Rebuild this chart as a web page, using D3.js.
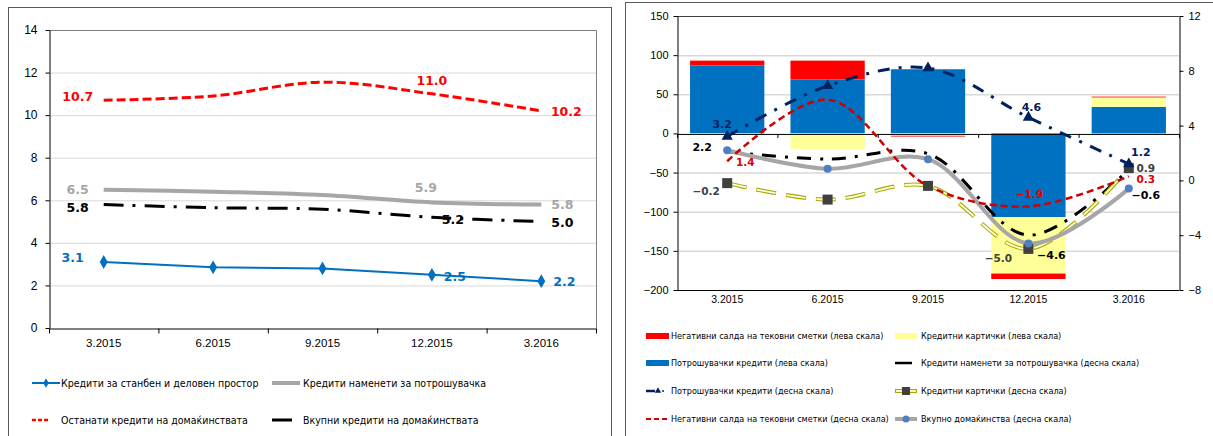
<!DOCTYPE html>
<html>
<head>
<meta charset="utf-8">
<script src="https://cdn.jsdelivr.net/npm/d3@7"></script>
<style>
  body { margin: 0; background: #fff; }
  svg { display: block; font-family: "DejaVu Sans", sans-serif; }
  .legend { font-family: "DejaVu Sans Condensed", "DejaVu Sans", sans-serif; }
</style>
</head>
<body>
<svg id="chart" width="1213" height="436"></svg>
<script>
// categories shared by both panels
var categories = ['3.2015', '6.2015', '9.2015', '12.2015', '3.2016'];

// left panel, percent
var housingLoans = [3.1, 2.85, 2.8, 2.5, 2.2];
var consumerLoans = [6.5, 6.4, 6.25, 5.9, 5.8];
var otherLoans = [10.7, 10.9, 11.55, 11.0, 10.2];
var totalLoans = [5.8, 5.65, 5.58, 5.2, 5.0];
var leftTicks = [0, 2, 4, 6, 8, 10, 12, 14];

// right panel, bars (left scale)
var negBalancesBar = [6, 24, -1, -7, 1];
var creditCardsBar = [-2, -20, -3, -72, 12];
var consumerCreditsBar = [87, 69, 82, -107, 34];
// right panel, lines (right scale)
var consumerCreditsLine = [3.2, 6.9, 8.2, 4.6, 1.2];
var consumptionLine = [2.1, 1.55, 1.95, -4.0, 0.8];
var creditCardsLine = [-0.2, -1.4, -0.4, -5.0, 0.9];
var negBalancesLine = [1.4, 5.9, -0.4, -1.9, 0.3];
var householdsLine = [2.2, 0.85, 1.55, -4.6, -0.6];
var rightLeftTicks = [-200, -150, -100, -50, 0, 50, 100, 150];
var rightRightTicks = [-8, -4, 0, 4, 8, 12];

// points that carry a value label
var labelIdx = [0, 3, 4];

var svg = d3.select('#chart');

// panel frames
svg.append('rect')
  .attr('x', 8.5).attr('y', 7.5).attr('width', 603).attr('height', 440)
  .attr('fill', 'none').attr('stroke', '#595959');
svg.append('rect')
  .attr('x', 625.5).attr('y', 2.5).attr('width', 600).attr('height', 440)
  .attr('fill', 'none').attr('stroke', '#595959');

function fmt(v) { return d3.format('.1f')(v); }

function drawLabels(g, x, y, values, color, offsets, size) {
  labelIdx.forEach(function(i, k) {
    g.append('text')
      .attr('x', x(categories[i]) + x.bandwidth() / 2 + offsets[k][0])
      .attr('y', y(values[i]) + offsets[k][1])
      .attr('dy', '0.35em')
      .attr('text-anchor', 'middle')
      .attr('font-size', size)
      .attr('font-weight', 'bold')
      .attr('fill', color)
      .text(fmt(values[i]));
  });
}

// ---------------- left panel ----------------
(function() {
  var g = svg.append('g');
  var x = d3.scaleBand().domain(categories).range([49, 596]);
  var y = d3.scaleLinear().domain([0, 14]).range([328, 30]);
  var cx = function(i) { return x(categories[i]) + x.bandwidth() / 2; };

  g.selectAll('.grid').data(leftTicks.slice(1, -1)).enter().append('line')
    .attr('x1', 49).attr('x2', 596)
    .attr('y1', function(d) { return y(d) + 0.5; })
    .attr('y2', function(d) { return y(d) + 0.5; })
    .attr('stroke', '#d9d9d9');
  // plot border top/right
  g.append('path')
    .attr('d', 'M49,' + (y(14) + 0.5) + 'H596.5V328')
    .attr('fill', 'none').attr('stroke', '#7f7f7f');

  var yAxis = g.append('g').attr('transform', 'translate(49.5,0)')
    .call(d3.axisLeft(y).tickValues(leftTicks).tickSize(4).tickPadding(8).tickSizeOuter(0));
  yAxis.selectAll('text').attr('font-size', 12).attr('fill', '#000');
  yAxis.selectAll('line,path').attr('stroke', '#000');

  var edge = d3.scaleLinear().domain([0, 5]).range([49, 596]);
  var xAxis = g.append('g').attr('transform', 'translate(0,328.5)')
    .call(d3.axisBottom(edge).ticks(5).tickSize(5).tickFormat('').tickSizeOuter(0));
  xAxis.selectAll('line,path').attr('stroke', '#000');
  var xLab = g.append('g').attr('transform', 'translate(0,328)')
    .call(d3.axisBottom(x).tickSize(0).tickPadding(11));
  xLab.select('.domain').remove();
  xLab.selectAll('text').attr('font-size', 11.5).attr('fill', '#000');

  var smooth = d3.line().x(function(d, i) { return cx(i); }).y(function(d) { return y(d); })
    .curve(d3.curveCatmullRom.alpha(0.5));
  var straight = d3.line().x(function(d, i) { return cx(i); }).y(function(d) { return y(d); });

  g.append('path').attr('d', smooth(otherLoans)).attr('fill', 'none')
    .attr('stroke', '#ff0000').attr('stroke-width', 3).attr('stroke-dasharray', '9,4');
  g.append('path').attr('d', smooth(consumerLoans)).attr('fill', 'none')
    .attr('stroke', '#a6a6a6').attr('stroke-width', 4);
  g.append('path').attr('d', smooth(totalLoans)).attr('fill', 'none')
    .attr('stroke', '#000').attr('stroke-width', 3).attr('stroke-dasharray', '20,9,3,9');
  g.append('path').attr('d', straight(housingLoans)).attr('fill', 'none')
    .attr('stroke', '#0070c0').attr('stroke-width', 2);
  g.selectAll('.dia').data(housingLoans).enter().append('path')
    .attr('d', d3.symbol(d3.symbolDiamond, 55))
    .attr('transform', function(d, i) { return 'translate(' + cx(i) + ',' + y(d) + ')'; })
    .attr('fill', '#0070c0');

  drawLabels(g, x, y, otherLoans, '#ff0000', [[-26, -4], [0, -13], [25, 1]], 12.5);
  drawLabels(g, x, y, consumerLoans, '#a6a6a6', [[-26, 0], [-6, -15], [21, 0]], 12.5);
  drawLabels(g, x, y, totalLoans, '#000', [[-26, 3], [21, 2], [21, 1]], 12.5);
  drawLabels(g, x, y, housingLoans, '#0070c0', [[-31, -4], [23, 2], [23, 0]], 12.5);

  // legend
  var lg = g.append('g').attr('class', 'legend').attr('font-size', 10.5).attr('fill', '#000');
  lg.append('line').attr('x1', 32).attr('x2', 60).attr('y1', 383).attr('y2', 383)
    .attr('stroke', '#0070c0').attr('stroke-width', 2);
  lg.append('path').attr('d', d3.symbol(d3.symbolDiamond, 25))
    .attr('transform', 'translate(46,383)').attr('fill', '#0070c0');
  lg.append('text').attr('x', 61).attr('y', 383).attr('dy', '0.35em').text('Кредити за станбен и деловен простор');
  lg.append('line').attr('x1', 272).attr('x2', 300).attr('y1', 383).attr('y2', 383)
    .attr('stroke', '#a6a6a6').attr('stroke-width', 4);
  lg.append('text').attr('x', 303).attr('y', 383).attr('dy', '0.35em').text('Кредити наменети за потрошувачка');
  lg.append('line').attr('x1', 32).attr('x2', 48).attr('y1', 420).attr('y2', 420)
    .attr('stroke', '#ff0000').attr('stroke-width', 2.5).attr('stroke-dasharray', '4,2');
  lg.append('text').attr('x', 61).attr('y', 420).attr('dy', '0.35em').text('Останати кредити на домаќинствата');
  lg.append('line').attr('x1', 272).attr('x2', 292).attr('y1', 420).attr('y2', 420)
    .attr('stroke', '#000').attr('stroke-width', 3);
  lg.append('text').attr('x', 303).attr('y', 420).attr('dy', '0.35em').text('Вкупни кредити на домаќинствата');
})();

// ---------------- right panel ----------------
(function() {
  var g = svg.append('g');
  var x = d3.scaleBand().domain(categories).range([677, 1179]);
  var xBar = d3.scaleBand().domain(categories).range([677, 1179]).paddingInner(0.26).paddingOuter(0.13);
  var yL = d3.scaleLinear().domain([-200, 150]).range([290, 16]);
  var yR = d3.scaleLinear().domain([-8, 12]).range([290, 16]);
  var cx = function(i) { return x(categories[i]) + x.bandwidth() / 2; };

  g.selectAll('.grid').data([-150, -100, -50, 50, 100]).enter().append('line')
    .attr('x1', 677).attr('x2', 1179)
    .attr('y1', function(d) { return yL(d) + 0.5; })
    .attr('y2', function(d) { return yL(d) + 0.5; })
    .attr('stroke', '#d9d9d9').attr('stroke-width', 1.5);
  g.append('line').attr('x1', 677).attr('x2', 1179).attr('y1', 16.5).attr('y2', 16.5)
    .attr('stroke', '#404040');

  // stacked bars
  var keys = ['blue', 'yellow', 'red'];
  var colors = { blue: '#0070c0', yellow: '#ffff99', red: '#ff0000' };
  var rows = categories.map(function(c, i) {
    return { cat: c, blue: consumerCreditsBar[i], yellow: creditCardsBar[i], red: negBalancesBar[i] };
  });
  var stack = d3.stack().keys(keys).offset(d3.stackOffsetDiverging)(rows);
  g.selectAll('.layer').data(stack).enter().append('g')
    .attr('fill', function(d) { return colors[d.key]; })
    .selectAll('rect').data(function(d) { return d; }).enter().append('rect')
    .attr('x', function(d) { return xBar(d.data.cat); })
    .attr('width', xBar.bandwidth())
    .attr('y', function(d) { return yL(Math.max(d[0], d[1])); })
    .attr('height', function(d) { return Math.abs(yL(d[0]) - yL(d[1])); });

  // axes
  var ya = g.append('g').attr('transform', 'translate(677.5,0)')
    .call(d3.axisLeft(yL).tickValues(rightLeftTicks).tickSize(4).tickPadding(5).tickSizeOuter(0));
  ya.selectAll('text').attr('font-size', 11).attr('fill', '#000');
  ya.selectAll('line,path').attr('stroke', '#000');
  var yb = g.append('g').attr('transform', 'translate(1179.5,0)')
    .call(d3.axisRight(yR).tickValues(rightRightTicks).tickSize(4).tickPadding(5).tickSizeOuter(0));
  yb.selectAll('text').attr('font-size', 11).attr('fill', '#000');
  yb.selectAll('line,path').attr('stroke', '#000');
  g.append('line').attr('x1', 677).attr('x2', 1179).attr('y1', 290.5).attr('y2', 290.5).attr('stroke', '#000');
  var edge = d3.scaleLinear().domain([0, 5]).range([677, 1179]);
  var xa = g.append('g').attr('transform', 'translate(0,' + (yL(0) + 0.5) + ')')
    .call(d3.axisBottom(edge).ticks(5).tickSize(4).tickFormat('').tickSizeOuter(0));
  xa.selectAll('line,path').attr('stroke', '#000');
  var xl = g.append('g').attr('transform', 'translate(0,290)')
    .call(d3.axisBottom(x).tickSize(0).tickPadding(6));
  xl.select('.domain').remove();
  xl.selectAll('text').attr('font-size', 10.5).attr('fill', '#000');

  var smooth = d3.line().x(function(d, i) { return cx(i); }).y(function(d) { return yR(d); })
    .curve(d3.curveCatmullRom.alpha(0.5));

  g.append('path').attr('d', smooth(consumptionLine)).attr('fill', 'none')
    .attr('stroke', '#000').attr('stroke-width', 3).attr('stroke-dasharray', '14,9,3,9');
  g.append('path').attr('d', smooth(creditCardsLine)).attr('fill', 'none')
    .attr('stroke', '#a8a800').attr('stroke-width', 4).attr('stroke-dasharray', '20,10');
  g.append('path').attr('d', smooth(creditCardsLine)).attr('fill', 'none')
    .attr('stroke', '#ffffe0').attr('stroke-width', 1.8).attr('stroke-dasharray', '19,11')
    .attr('stroke-dashoffset', -0.5);
  g.append('path').attr('d', smooth(consumerCreditsLine)).attr('fill', 'none')
    .attr('stroke', '#002060').attr('stroke-width', 3).attr('stroke-dasharray', '12,9,3,9');
  g.append('path').attr('d', smooth(householdsLine)).attr('fill', 'none')
    .attr('stroke', '#a6a6a6').attr('stroke-width', 4);
  g.append('path').attr('d', smooth(negBalancesLine)).attr('fill', 'none')
    .attr('stroke', '#d00000').attr('stroke-width', 2.5).attr('stroke-dasharray', '7,4');

  g.selectAll('.sq').data(creditCardsLine).enter().append('rect')
    .attr('x', function(d, i) { return cx(i) - 5; })
    .attr('y', function(d) { return yR(d) - 5; })
    .attr('width', 10).attr('height', 10).attr('fill', '#404040');
  g.selectAll('.tri').data(consumerCreditsLine).enter().append('path')
    .attr('d', d3.symbol(d3.symbolTriangle, 55))
    .attr('transform', function(d, i) { return 'translate(' + cx(i) + ',' + yR(d) + ')'; })
    .attr('fill', '#002060');
  g.selectAll('.dot').data(householdsLine).enter().append('circle')
    .attr('cx', function(d, i) { return cx(i); })
    .attr('cy', function(d) { return yR(d); })
    .attr('r', 4).attr('fill', '#4f7fbf');

  drawLabels(g, x, yR, consumerCreditsLine, '#002060', [[-5, -12], [3, -10], [12, -12]], 11);
  drawLabels(g, x, yR, householdsLine, '#000', [[-25, -3], [23, 12], [17, 7]], 11);
  drawLabels(g, x, yR, creditCardsLine, '#404040', [[-21, 8], [-30, 9], [17, 0]], 10.5);
  drawLabels(g, x, yR, negBalancesLine, '#e00000', [[18, 1], [1, -12], [17, 3]], 10.5);

  // legend
  var lg = g.append('g').attr('class', 'legend').attr('font-size', 9).attr('fill', '#000');
  var rowsY = [336, 363, 391, 419];
  var c1 = 646, c2 = 895;
  lg.append('rect').attr('x', c1).attr('y', rowsY[0] - 3).attr('width', 23).attr('height', 6).attr('fill', '#ff0000');
  lg.append('rect').attr('x', c1).attr('y', rowsY[1] - 3).attr('width', 23).attr('height', 6).attr('fill', '#0070c0');
  lg.append('line').attr('x1', c1).attr('x2', c1 + 9).attr('y1', rowsY[2]).attr('y2', rowsY[2])
    .attr('stroke', '#002060').attr('stroke-width', 2.5);
  lg.append('path').attr('d', d3.symbol(d3.symbolTriangle, 18))
    .attr('transform', 'translate(' + (c1 + 12) + ',' + rowsY[2] + ')').attr('fill', '#002060');
  lg.append('circle').attr('cx', c1 + 17).attr('cy', rowsY[2]).attr('r', 1).attr('fill', '#002060');
  lg.append('line').attr('x1', c1).attr('x2', c1 + 21).attr('y1', rowsY[3]).attr('y2', rowsY[3])
    .attr('stroke', '#d00000').attr('stroke-width', 2).attr('stroke-dasharray', '5,3');
  lg.append('rect').attr('x', c2).attr('y', rowsY[0] - 3).attr('width', 22).attr('height', 6).attr('fill', '#ffff99');
  lg.append('line').attr('x1', c2).attr('x2', c2 + 17).attr('y1', rowsY[1]).attr('y2', rowsY[1])
    .attr('stroke', '#000').attr('stroke-width', 2.5);
  lg.append('line').attr('x1', c2).attr('x2', c2 + 22).attr('y1', rowsY[2]).attr('y2', rowsY[2])
    .attr('stroke', '#a8a800').attr('stroke-width', 4);
  lg.append('line').attr('x1', c2 + 1).attr('x2', c2 + 21).attr('y1', rowsY[2]).attr('y2', rowsY[2])
    .attr('stroke', '#ffffe0').attr('stroke-width', 1.8);
  lg.append('rect').attr('x', c2 + 7).attr('y', rowsY[2] - 4).attr('width', 8).attr('height', 8).attr('fill', '#404040');
  lg.append('line').attr('x1', c2).attr('x2', c2 + 22).attr('y1', rowsY[3]).attr('y2', rowsY[3])
    .attr('stroke', '#a6a6a6').attr('stroke-width', 4);
  lg.append('circle').attr('cx', c2 + 11).attr('cy', rowsY[3]).attr('r', 3.5).attr('fill', '#4f7fbf');

  var texts1 = ['Негативни салда на тековни сметки (лева скала)', 'Потрошувачки кредити (лева скала)',
    'Потрошувачки кредити (десна скала)', 'Негативни салда на тековни сметки (десна скала)'];
  var texts2 = ['Кредитни картички (лева скала)', 'Кредити наменети за потрошувачка (десна скала)',
    'Кредитни картички (десна скала)', 'Вкупно домаќинства (десна скала)'];
  texts1.forEach(function(t, i) {
    lg.append('text').attr('x', 671).attr('y', rowsY[i]).attr('dy', '0.35em').text(t);
  });
  texts2.forEach(function(t, i) {
    lg.append('text').attr('x', 921).attr('y', rowsY[i]).attr('dy', '0.35em').text(t);
  });
})();
</script>
</body>
</html>
